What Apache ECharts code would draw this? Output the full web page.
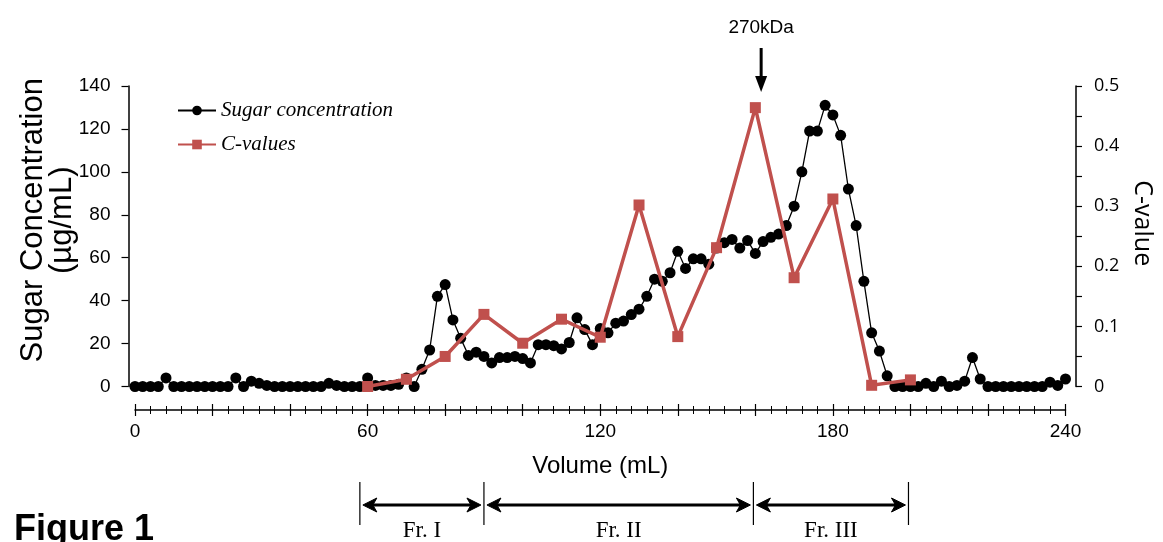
<!DOCTYPE html>
<html>
<head>
<meta charset="utf-8">
<script src="https://cdn.jsdelivr.net/npm/echarts@6/dist/echarts.min.js"></script>
<style>
html, body { margin: 0; padding: 0; background: #fff; }
#chart { width: 1163px; height: 542px; }
</style>
</head>
<body>
<div id="chart"></div>
<script>
// elution volume of each collected fraction (mL)
var volumes = [
    0, 2, 4, 6, 8, 10, 12, 14, 16, 18, 20, 22, 24, 26, 28, 30, 32, 34, 36, 38,
    40, 42, 44, 46, 48, 50, 52, 54, 56, 58, 60, 62, 64, 66, 68, 70, 72, 74, 76, 78,
    80, 82, 84, 86, 88, 90, 92, 94, 96, 98, 100, 102, 104, 106, 108, 110, 112, 114, 116, 118,
    120, 122, 124, 126, 128, 130, 132, 134, 136, 138, 140, 142, 144, 146, 148, 150, 152, 154, 156, 158,
    160, 162, 164, 166, 168, 170, 172, 174, 176, 178, 180, 182, 184, 186, 188, 190, 192, 194, 196, 198,
    200, 202, 204, 206, 208, 210, 212, 214, 216, 218, 220, 222, 224, 226, 228, 230, 232, 234, 236, 238,
    240
]
// sugar concentration (ug/mL)
var sugar = [
    0, 0, 0, 0, 4, 0, 0, 0, 0, 0, 0, 0, 0, 4, 0, 2.5, 1.5, 0.5, 0, 0,
    0, 0, 0, 0, 0, 1.5, 0.5, 0, 0, 0, 4, 0.5, 0.5, 0.5, 1, 4, 0, 8, 17, 42,
    47.5, 31, 22.5, 14.5, 16, 14, 11, 13.5, 13.5, 14, 13, 11, 19.5, 19.5, 19, 17.5, 20.5, 32, 26.5, 19.5,
    27, 25, 29.5, 30.5, 33.5, 36, 42, 50, 49, 53, 63, 55, 59.5, 59.5, 57, 64.5, 67, 68.5, 64.5, 68,
    62, 67.5, 69.5, 71, 75, 84, 100, 119, 119, 131, 126.5, 117, 92, 75, 49, 25, 16.5, 5, 0, 0,
    0, 0, 1.5, 0, 2.5, 0, 0.5, 2.5, 13.5, 3.5, 0, 0, 0, 0, 0, 0, 0, 0, 2, 0.5,
    3.5
]
// C-values
var cVolumes = [60, 70, 80, 90, 100, 110, 120, 130, 140, 150, 160, 170, 180, 190, 200]
var cValues = [0, 0.012, 0.05, 0.12, 0.072, 0.112, 0.082, 0.302, 0.083, 0.231, 0.464, 0.181, 0.312, 0.002, 0.011]

var xTickLabels = [0, 60, 120, 180, 240]
var fractionBounds = [58, 90, 159.5, 199.5]
var fractionNames = ['Fr. I', 'Fr. II', 'Fr. III']
var markerVolume = 161.5
var markerLabel = '270kDa'

var redColor = '#c0504d'
var chart = echarts.init(document.getElementById('chart'))

function pairs(xs, ys) {
    var out = []
    for (var i = 0; i < xs.length; i++) {
        out.push([xs[i], ys[i]])
    }
    return out
}

var sansFont = 'Liberation Sans'

var option = {
    animation: false,
    backgroundColor: '#fff',
    grid: { left: 135, right: 95, top: 86, height: 300.5 },
    legend: {
        left: 177,
        top: 100,
        padding: 0,
        orient: 'vertical',
        itemWidth: 38,
        itemHeight: 12,
        itemGap: 13,
        data: ['Sugar concentration', 'C-values'],
        textStyle: { fontFamily: 'Liberation Serif', fontStyle: 'italic', fontSize: 21, color: '#000' }
    },
    xAxis: [
        {
            type: 'value', min: 0, max: 240, interval: 20,
            position: 'bottom', offset: 23.5,
            name: 'Volume (mL)', nameLocation: 'middle', nameGap: 44, nameMoveOverlap: false,
            nameTextStyle: { fontFamily: sansFont, fontSize: 24, color: '#000' },
            axisLine: { onZero: false, lineStyle: { color: '#000', width: 1.5 } },
            axisTick: { length: 6, lineStyle: { color: '#000', width: 1.2 } },
            minorTick: { show: true, splitNumber: 5, length: 4, lineStyle: { color: '#000', width: 1 } },
            axisLabel: {
                margin: 12, fontFamily: sansFont, fontSize: 19, color: '#000',
                formatter: function (v) { return xTickLabels.indexOf(v) >= 0 ? String(v) : '' }
            },
            splitLine: { show: false }
        },
        {
            type: 'value', min: 0, max: 240, interval: 20,
            position: 'bottom', offset: 23.5,
            axisLine: { show: false, onZero: false },
            axisTick: { inside: true, length: 6, lineStyle: { color: '#000', width: 1.2 } },
            minorTick: { show: true, splitNumber: 5, length: 4, lineStyle: { color: '#000', width: 1 } },
            axisLabel: { show: false },
            splitLine: { show: false }
        }
    ],
    yAxis: [
        {
            type: 'value', min: 0, max: 140, interval: 20,
            position: 'left', offset: 6.5,
            name: 'Sugar Concentration\n(\u00b5g/mL)', nameLocation: 'middle', nameGap: 52, nameRotate: 90,
            nameMoveOverlap: false,
            nameTextStyle: { fontFamily: sansFont, fontSize: 31, color: '#000', lineHeight: 29, align: 'center', padding: [0, 0, 0, 32] },
            axisLine: { show: true, onZero: false, lineStyle: { color: '#000', width: 1.5 } },
            axisTick: { show: true, length: 7, lineStyle: { color: '#000', width: 1.2 } },
            axisLabel: { margin: 18, fontFamily: sansFont, fontSize: 19, color: '#000' },
            splitLine: { show: false }
        },
        {
            type: 'value', min: 0, max: 0.5, interval: 0.1,
            position: 'right', offset: 10.5,
            name: 'C-value', nameLocation: 'middle', nameGap: 54, nameRotate: -90,
            nameMoveOverlap: false,
            nameTextStyle: { fontFamily: 'Open Sans', fontSize: 25, color: '#000', padding: [0, 26, 0, 0] },
            axisLine: { show: true, onZero: false, lineStyle: { color: '#000', width: 1.5 } },
            axisTick: { show: true, length: 6, lineStyle: { color: '#000', width: 1.2 } },
            minorTick: { show: true, splitNumber: 2, length: 6, lineStyle: { color: '#000', width: 1.2 } },
            axisLabel: {
                margin: 18, fontFamily: 'Open Sans', fontSize: 18, color: '#000',
                formatter: function (v) { return v === 0 ? '0' : v.toFixed(1) }
            },
            splitLine: { show: false }
        }
    ],
    series: [
        {
            name: 'Sugar concentration',
            type: 'line',
            xAxisIndex: 0, yAxisIndex: 0,
            data: pairs(volumes, sugar),
            symbol: 'circle', symbolSize: 11,
            itemStyle: { color: '#000' },
            lineStyle: { color: '#000', width: 1.3 },
            z: 2
        },
        {
            name: 'C-values',
            type: 'line',
            xAxisIndex: 0, yAxisIndex: 1,
            data: pairs(cVolumes, cValues),
            symbol: 'rect', symbolSize: 11,
            itemStyle: { color: redColor },
            lineStyle: { color: redColor, width: 3.5 },
            z: 3
        }
    ]
}
chart.setOption(option)

function drawExtras() {
    var g = []
    var tip = chart.convertToPixel({ xAxisIndex: 0, yAxisIndex: 0 }, [markerVolume, 140])
    var ax = tip[0], ay = tip[1]
    g.push({ type: 'line', shape: { x1: ax, y1: ay - 38, x2: ax, y2: ay - 4 }, style: { stroke: '#000', lineWidth: 3 } })
    g.push({ type: 'polygon', shape: { points: [[ax - 6, ay - 10], [ax + 6, ay - 10], [ax, ay + 6]] }, style: { fill: '#000' } })
    g.push({ type: 'text', x: ax, y: ay - 58, style: { text: markerLabel, fontFamily: sansFont, fontSize: 19, fill: '#000', align: 'center', verticalAlign: 'middle' } })

    // fraction brackets under the axis
    var xs = fractionBounds.map(function (v) { return chart.convertToPixel({ xAxisIndex: 0 }, v) })
    var barTop = 482, barBot = 525, arrowY = 505
    xs.forEach(function (x) {
        g.push({ type: 'line', shape: { x1: x, y1: barTop, x2: x, y2: barBot }, style: { stroke: '#000', lineWidth: 1.2 } })
    })
    for (var i = 0; i < fractionNames.length; i++) {
        var x1 = xs[i] + 3, x2 = xs[i + 1] - 3
        g.push({ type: 'line', shape: { x1: x1 + 4, y1: arrowY, x2: x2 - 4, y2: arrowY }, style: { stroke: '#000', lineWidth: 3 } })
        g.push({ type: 'polygon', shape: { points: [[x1, arrowY], [x1 + 14, arrowY - 7], [x1 + 10, arrowY], [x1 + 14, arrowY + 7]] }, style: { fill: '#000', stroke: '#000', lineWidth: 1 } })
        g.push({ type: 'polygon', shape: { points: [[x2, arrowY], [x2 - 14, arrowY - 7], [x2 - 10, arrowY], [x2 - 14, arrowY + 7]] }, style: { fill: '#000', stroke: '#000', lineWidth: 1 } })
        g.push({ type: 'text', x: (xs[i] + xs[i + 1]) / 2, y: 531, style: { text: fractionNames[i], fontFamily: 'Liberation Serif', fontSize: 23, fill: '#000', align: 'center', verticalAlign: 'middle' } })
    }

    g.push({ type: 'text', x: 14, y: 530, style: { text: 'Figure 1', fontFamily: sansFont, fontWeight: 'bold', fontSize: 36, fill: '#000', align: 'left', verticalAlign: 'middle' } })
    chart.setOption({ graphic: g })
}
drawExtras()
</script>
</body>
</html>
